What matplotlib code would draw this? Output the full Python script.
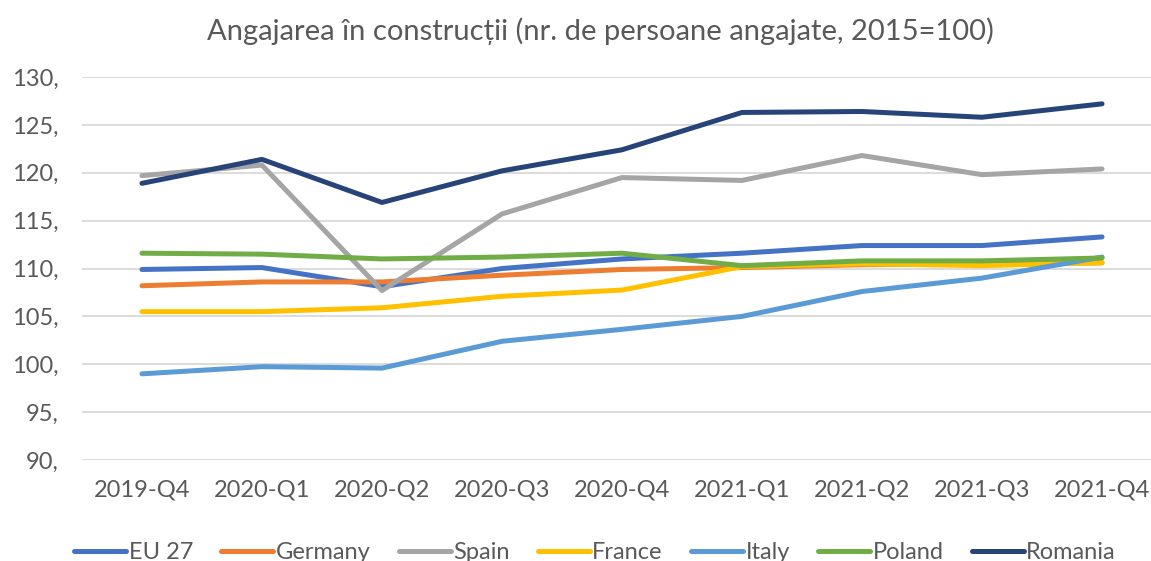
import matplotlib.pyplot as plt

plt.rcParams["font.family"] = ["Lato", "DejaVu Sans"]

quarters = ["2019-Q4", "2020-Q1", "2020-Q2", "2020-Q3", "2020-Q4",
            "2021-Q1", "2021-Q2", "2021-Q3", "2021-Q4"]

eu27 = [109.9, 110.1, 108.1, 110.0, 111.0, 111.6, 112.4, 112.4, 113.3]
germany = [108.2, 108.6, 108.6, 109.3, 109.9, 110.1, 110.4, 110.5, 110.6]
spain = [119.7, 120.8, 107.7, 115.7, 119.5, 119.2, 121.8, 119.8, 120.4]
france = [105.5, 105.5, 105.9, 107.1, 107.75, 110.2, 110.5, 110.3, 110.6]
italy = [99.0, 99.75, 99.6, 102.4, 103.65, 105.0, 107.6, 109.0, 111.2]
poland = [111.6, 111.5, 111.0, 111.2, 111.6, 110.3, 110.8, 110.8, 111.1]
romania = [118.9, 121.4, 116.9, 120.2, 122.4, 126.3, 126.4, 125.8, 127.2]

series = [
    ("EU 27", eu27, "#4472C4"),
    ("Germany", germany, "#ED7D31"),
    ("Spain", spain, "#A5A5A5"),
    ("France", france, "#FFC000"),
    ("Italy", italy, "#5B9BD5"),
    ("Poland", poland, "#70AD47"),
    ("Romania", romania, "#264478"),
]

yticks = list(range(90, 131, 5))
text_col = "#595959"

fig = plt.figure(figsize=(11.51, 5.61), dpi=100)
ax = fig.add_axes([0.0712, 0.18, 0.9384, 0.6827])

x = list(range(len(quarters)))
for name, vals, col in series:
    ax.plot(x, vals, color=col, lw=3.6, label=name, solid_capstyle="round",
            solid_joinstyle="round")

ax.set_xlim(-0.5, len(quarters) - 0.5)
ax.set_ylim(90, 130)
ax.set_yticks(yticks)
ax.set_yticklabels([f"{v}," for v in yticks])
ax.set_xticks(x)
ax.set_xticklabels(quarters)
ax.grid(axis="y", color="#D9D9D9", lw=1.3)
ax.set_axisbelow(True)
for s in ax.spines.values():
    s.set_visible(False)
ax.tick_params(length=0, colors=text_col, labelsize=17)
ax.tick_params(axis="y", pad=17)
ax.tick_params(axis="x", pad=14)

fig.text(0.522, 0.945, "Angajarea în construcții (nr. de persoane angajate, 2015=100)",
         ha="center", va="center", fontsize=21, color=text_col)

fig.legend(loc="center", bbox_to_anchor=(0.517, 0.015), ncol=7, frameon=False,
           fontsize=17, labelcolor=text_col, handlelength=2.2, handletextpad=0.1,
           columnspacing=1.2)

fig.savefig("out.png", dpi=100)
